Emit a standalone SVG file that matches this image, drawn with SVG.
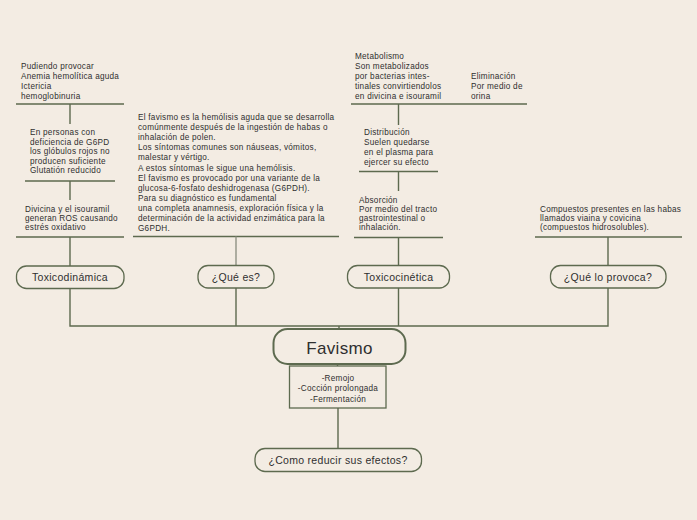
<svg xmlns="http://www.w3.org/2000/svg" width="697" height="520" viewBox="0 0 697 520">
<style>
.t{font-family:"Liberation Sans",Arial,sans-serif;font-size:8.2px;letter-spacing:0.25px;fill:#2f2f2f}
.n{font-family:"Liberation Sans",Arial,sans-serif;font-size:10.5px;letter-spacing:0.3px;fill:#2f2f2f;text-anchor:middle}
.c{fill:none;stroke:#5d6a4f;stroke-width:1.4}
.node{fill:#f3ece3;stroke:#5d6a4f;stroke-width:1.3}
</style>
<rect width="697" height="520" fill="#f3ece3"/>
<g id="connectors">
<path class="c" d="M16 104H124M70 104V124M25 181H115M70 181V200M16 237H124M70 237V266"/>
<path class="c" d="M133 236.5H339M236 288V326"/>
<path d="M236 236.5V265" fill="none" stroke="#8f9384" stroke-width="1.4"/>
<path class="c" d="M351 104H527M398.5 104V125M359 171.5H438M398.5 171.5V191M354 237.5H443M398.5 237.5V266"/>
<path class="c" d="M535 237H682M608 237V265"/>
<path class="c" d="M70 288V326H608V288M398.5 288V326M339 326V329M337.5 364V366M338 408V449"/>
</g>
<g id="tox-dinamica-text">
<text class="t" x="21" y="68.5">Pudiendo provocar</text>
<text class="t" x="21" y="78.5">Anemia hemolítica aguda</text>
<text class="t" x="21" y="88.5">Ictericia</text>
<text class="t" x="21" y="98.5">hemoglobinuria</text>
<text class="t" x="30" y="135.3">En personas con</text>
<text class="t" x="30" y="144.8">deficiencia de G6PD</text>
<text class="t" x="30" y="154.3">los glóbulos rojos no</text>
<text class="t" x="30" y="163.8">producen suficiente</text>
<text class="t" x="30" y="173.3">Glutatión reducido</text>
<text class="t" x="25" y="211.5">Divicina y el isouramil</text>
<text class="t" x="25" y="220.5">generan ROS causando</text>
<text class="t" x="25" y="229.5">estrés oxidativo</text>
</g>
<g id="que-es-text">
<text class="t" x="138" y="120">El favismo es la hemólisis aguda que se desarrolla</text>
<text class="t" x="138" y="130.1">comúnmente después de la ingestión de habas o</text>
<text class="t" x="138" y="140.2">inhalación de polen.</text>
<text class="t" x="138" y="150.3">Los síntomas comunes son náuseas, vómitos,</text>
<text class="t" x="138" y="160.4">malestar y vértigo.</text>
<text class="t" x="138" y="170.5">A estos síntomas le sigue una hemólisis.</text>
<text class="t" x="138" y="180.6">El favismo es provocado por una variante de la</text>
<text class="t" x="138" y="190.7">glucosa-6-fosfato deshidrogenasa (G6PDH).</text>
<text class="t" x="138" y="200.8">Para su diagnóstico es fundamental</text>
<text class="t" x="138" y="210.9">una completa anamnesis, exploración física y la</text>
<text class="t" x="138" y="221">determinación de la actividad enzimática para la</text>
<text class="t" x="138" y="231.1">G6PDH.</text>
</g>
<g id="tox-cinetica-text">
<text class="t" x="355" y="58.5">Metabolismo</text>
<text class="t" x="355" y="68.5">Son metabolizados</text>
<text class="t" x="355" y="78.5">por bacterias intes-</text>
<text class="t" x="355" y="88.5">tinales convirtiendolos</text>
<text class="t" x="355" y="98.5">en divicina e isouramil</text>
<text class="t" x="471" y="78.5">Eliminación</text>
<text class="t" x="471" y="88.5">Por medio de</text>
<text class="t" x="471" y="98.5">orina</text>
<text class="t" x="364" y="135">Distribución</text>
<text class="t" x="364" y="145.1">Suelen quedarse</text>
<text class="t" x="364" y="155.2">en el plasma para</text>
<text class="t" x="364" y="165.3">ejercer su efecto</text>
<text class="t" x="359" y="202.8">Absorción</text>
<text class="t" x="359" y="211.9">Por medio del tracto</text>
<text class="t" x="359" y="221">gastrointestinal o</text>
<text class="t" x="359" y="230.1">inhalación.</text>
</g>
<g id="provoca-text">
<text class="t" x="540" y="211.8">Compuestos presentes en las habas</text>
<text class="t" x="540" y="221.1">llamados viaina y covicina</text>
<text class="t" x="540" y="230.4">(compuestos hidrosolubles).</text>
</g>
<g id="node-toxicodinamica">
<rect class="node" x="16.5" y="266" width="107.5" height="22.5" rx="10"/>
<text class="n" x="70" y="281">Toxicodinámica</text>
</g>
<g id="node-que-es">
<rect class="node" x="198" y="265.5" width="76" height="22.5" rx="10"/>
<text class="n" x="236" y="280.5">¿Qué es?</text>
</g>
<g id="node-toxicocinetica">
<rect class="node" x="347.5" y="265.5" width="102" height="22.5" rx="10"/>
<text class="n" x="398.5" y="280.5">Toxicocinética</text>
</g>
<g id="node-que-lo-provoca">
<rect class="node" x="550.5" y="265.5" width="115.5" height="22.5" rx="10"/>
<text class="n" x="608" y="280.5">¿Qué lo provoca?</text>
</g>
<g id="node-favismo">
<rect x="273.5" y="329" width="132" height="35" rx="14" fill="#f3ece3" stroke="#5d6a4f" stroke-width="2"/>
<text x="339.5" y="353.5" text-anchor="middle" font-family="Liberation Sans,Arial,sans-serif" font-size="17" letter-spacing="0.3" fill="#2f2f2f">Favismo</text>
</g>
<g id="node-reducir-box">
<rect x="289.5" y="366" width="96.5" height="42" fill="#f3ece3" stroke="#5d6a4f" stroke-width="1.3"/>
<text class="t" x="338" y="380.5" text-anchor="middle">-Remojo</text>
<text class="t" x="338" y="391" text-anchor="middle">-Cocción prolongada</text>
<text class="t" x="338" y="401.5" text-anchor="middle">-Fermentación</text>
</g>
<g id="node-como-reducir">
<rect class="node" x="255" y="448.5" width="166.5" height="23" rx="10"/>
<text class="n" x="338" y="463.5" letter-spacing="0.2">¿Como reducir sus efectos?</text>
</g>
</svg>
